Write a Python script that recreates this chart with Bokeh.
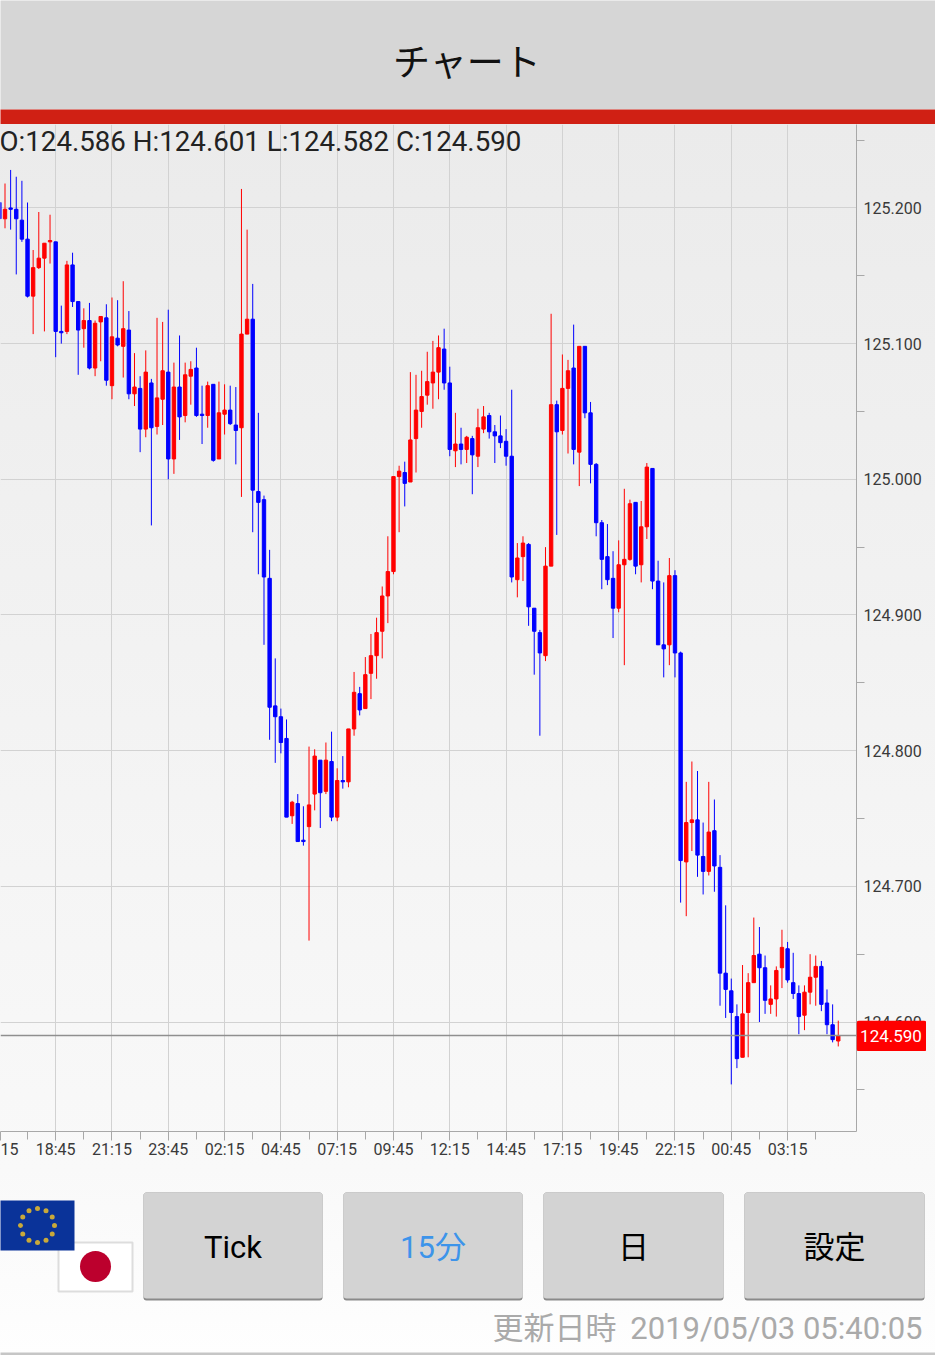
import math
from bokeh.embed import file_html
from bokeh.models import ColumnDataSource, FixedTicker, Label, Range1d, Span, AllLabels
from bokeh.plotting import figure
from bokeh.resources import INLINE
from bokeh.core.properties import value

opens = [125.204,125.192,125.200,125.199,125.191,125.177,125.135,125.156,125.163,125.175,
125.175,125.109,125.109,125.158,125.131,125.111,125.117,125.082,125.116,125.119,
125.069,125.104,125.098,125.110,125.063,125.067,125.037,125.071,125.039,125.059,
125.079,125.015,125.068,125.047,125.076,125.082,125.048,125.047,125.070,125.015,
125.048,125.051,125.040,125.038,125.107,125.118,124.991,124.985,124.927,124.833,
124.825,124.809,124.752,124.761,124.734,124.744,124.768,124.793,124.770,124.792,
124.751,124.778,124.777,124.816,124.842,124.831,124.857,124.870,124.888,124.914,
124.932,125.002,125.005,124.998,125.030,125.050,125.062,125.071,125.079,125.096,
125.071,125.021,125.026,125.022,125.030,125.017,125.037,125.047,125.035,125.032,
125.028,125.017,124.926,124.943,124.952,124.905,124.887,124.870,124.936,125.055,
125.036,125.067,125.082,125.020,125.098,125.049,125.011,124.968,124.943,124.927,
124.905,124.937,124.941,124.983,124.937,124.965,125.008,124.925,124.878,124.878,
124.929,124.872,124.718,124.747,124.749,124.722,124.711,124.741,124.714,124.636,
124.623,124.604,124.574,124.607,124.629,124.650,124.640,124.613,124.617,124.640,
124.654,124.629,124.621,124.605,124.622,124.633,124.641,124.614,124.598,124.586]
highs = [125.204,125.218,125.228,125.223,125.220,125.204,125.169,125.197,125.174,125.195,
125.175,125.128,125.161,125.167,125.131,125.126,125.130,125.117,125.120,125.129,
125.134,125.132,125.146,125.124,125.093,125.076,125.095,125.074,125.119,125.116,
125.125,125.086,125.106,125.086,125.087,125.097,125.069,125.072,125.070,125.072,
125.070,125.069,125.068,125.214,125.184,125.144,125.049,124.988,124.948,124.868,
124.831,124.823,124.763,124.768,124.759,124.803,124.801,124.793,124.806,124.814,
124.787,124.796,124.816,124.858,124.847,124.869,124.886,124.898,124.921,124.958,
125.002,125.010,125.013,125.079,125.077,125.080,125.094,125.102,125.106,125.111,
125.083,125.049,125.038,125.032,125.032,125.052,125.054,125.049,125.040,125.047,
125.037,125.066,124.953,124.958,124.953,124.905,124.889,124.950,125.122,125.058,
125.092,125.088,125.114,125.098,125.098,125.057,125.012,124.970,124.967,124.947,
124.955,124.993,124.985,124.983,124.984,125.012,125.008,124.940,124.924,124.942,
124.933,124.873,124.777,124.792,124.785,124.747,124.777,124.764,124.723,124.686,
124.632,124.613,124.642,124.636,124.677,124.670,124.649,124.627,124.641,124.668,
124.659,124.651,124.627,124.627,124.650,124.649,124.645,124.624,124.613,124.601]
lows = [125.192,125.185,125.184,125.151,125.175,125.134,125.107,125.155,125.109,125.159,
125.090,125.100,125.107,125.127,125.077,125.097,125.081,125.076,125.087,125.069,
125.059,125.098,125.075,125.059,125.054,125.020,125.031,124.966,125.033,125.040,
125.000,125.004,125.029,125.042,125.055,125.046,125.026,125.038,125.013,125.015,
125.033,125.040,125.011,124.987,125.107,124.961,124.930,124.878,124.808,124.791,
124.798,124.751,124.746,124.733,124.730,124.660,124.756,124.743,124.768,124.748,
124.748,124.772,124.773,124.811,124.826,124.831,124.838,124.853,124.868,124.894,
124.930,124.961,124.980,124.998,125.005,125.038,125.055,125.052,125.059,125.066,
125.017,125.009,125.011,125.012,124.989,125.009,125.034,125.030,125.012,125.023,
125.010,124.924,124.913,124.925,124.892,124.856,124.811,124.866,124.936,124.959,
125.033,125.019,125.011,124.995,125.045,124.997,124.958,124.919,124.922,124.883,
124.902,124.863,124.940,124.930,124.924,124.956,124.919,124.878,124.854,124.863,
124.854,124.688,124.678,124.726,124.707,124.694,124.708,124.696,124.612,124.603,
124.554,124.566,124.574,124.574,124.629,124.600,124.606,124.606,124.604,124.625,
124.629,124.617,124.591,124.594,124.613,124.612,124.608,124.591,124.585,124.582]
closes = [125.192,125.199,125.199,125.192,125.177,125.135,125.156,125.163,125.174,125.176,
125.109,125.108,125.158,125.131,125.110,125.117,125.082,125.115,125.120,125.073,
125.105,125.099,125.111,125.063,125.068,125.037,125.079,125.038,125.060,125.080,
125.015,125.068,125.046,125.077,125.081,125.047,125.047,125.069,125.014,125.049,
125.051,125.041,125.036,125.107,125.118,124.992,124.983,124.928,124.832,124.825,
124.806,124.751,124.762,124.733,124.733,124.760,124.796,124.769,124.793,124.751,
124.778,124.777,124.816,124.843,124.830,124.856,124.870,124.887,124.914,124.932,
125.002,125.006,124.997,125.029,125.051,125.061,125.072,125.079,125.097,125.071,
125.022,125.026,125.022,125.031,125.018,125.038,125.046,125.035,125.032,125.027,
125.017,124.928,124.942,124.953,124.906,124.888,124.872,124.936,125.055,125.035,
125.067,125.080,125.022,125.098,125.049,125.011,124.968,124.941,124.926,124.905,
124.937,124.941,124.982,124.936,124.965,125.009,124.925,124.878,124.875,124.929,
124.872,124.719,124.747,124.749,124.723,124.711,124.740,124.715,124.636,124.624,
124.607,124.573,124.606,124.629,124.649,124.640,124.616,124.617,124.638,124.655,
124.631,124.621,124.604,124.622,124.633,124.641,124.613,124.598,124.587,124.590]

y_labels = ["125.200", "125.100", "125.000", "124.900", "124.800", "124.700", "124.600"]
y_ticks = [float(t) for t in y_labels]
y_minor = [125.25, 125.15, 125.05, 124.95, 124.85, 124.75, 124.65, 124.55]
time_labels = ["15", "18:45", "21:15", "23:45", "02:15", "04:45", "07:15", "09:45",
               "12:15", "14:45", "17:15", "19:45", "22:15", "00:45", "03:15"]
ohlc_text = "O:124.586 H:124.601 L:124.582 C:124.590"
last_price = 124.590
buttons = ["Tick", "15分", "日", "設定"]
button_left = [143, 343, 543, 744]
button_right = [322, 522, 723, 924]
button_colors = ["#000000", "#3d94ea", "#000000", "#000000"]
updated_label = "更新日時"
updated_time = "2019/05/03 05:40:05"

FONT = value("Roboto, 'Noto Sans CJK JP'")
WIDTH = 935


def place(f, top, left=0, grad=None):
    s = {"position": "absolute", "left": f"{left}px", "top": f"{top}px"}
    if grad:
        s["background"] = f"linear-gradient(to bottom, {grad[0]}, {grad[1]})"
    f.styles = s
    f.outline_line_color = None
    f.background_fill_color = None
    f.border_fill_color = None


def chrome(height, y_top, grad=None, left=0, width=WIDTH):
    f = figure(width=width, height=height, output_backend="svg", toolbar_location=None,
               x_range=Range1d(left, left + width), y_range=Range1d(y_top + height, y_top),
               x_axis_type=None, y_axis_type=None, min_border=0)
    place(f, y_top, left, grad)
    return f


# header
head = chrome(124, 0)
head.quad(left=[-5], right=[WIDTH + 5], top=[-5], bottom=[109], color="#d6d6d6", line_color=None)
head.quad(left=[-5], right=[WIDTH + 5], top=[109], bottom=[130], color="#d02014", line_color=None)
head.text(x=[466.5], y=[59], text=["チャート"], text_font=value("Noto Sans CJK JP"),
          text_font_size="37px", text_align="center", text_baseline="middle", text_color="#111111")

# chart
n = len(opens)
idx = list(range(n))
colors = ["#ff0000" if c >= o else "#0000ff" for o, c in zip(opens, closes)]
src = ColumnDataSource(dict(x=idx, top=[max(o, c) for o, c in zip(opens, closes)],
                            bottom=[min(o, c) for o, c in zip(opens, closes)],
                            high=highs, low=lows, color=colors))
x_start = 0.2
x_end = 152.24
chart = figure(width=WIDTH, height=1046, output_backend="svg", toolbar_location=None,
               x_range=Range1d(x_start, x_end), y_range=Range1d(124.5193, 125.2615),
               y_axis_location="right", min_border_left=0, min_border_top=0,
               min_border_right=79, min_border_bottom=39)
place(chart, 124, grad=("#ebebeb", "#f9f9f9"))
grid_ticks = [10 * k for k in range(1, len(time_labels))]
chart.xgrid.ticker = FixedTicker(ticks=grid_ticks)
chart.ygrid.ticker = FixedTicker(ticks=y_ticks)
for g in (chart.xgrid, chart.ygrid):
    g.grid_line_color = "#d2d2d2"
    g.grid_line_width = 1

ax = chart.xaxis[0]
ax.ticker = FixedTicker(ticks=[x_start] + grid_ticks, minor_ticks=[5 + 10 * k for k in range(15)])
ax.major_label_overrides = {t: l for t, l in zip([x_start] + grid_ticks, time_labels)}
ax.major_label_policy = AllLabels()
ax.major_tick_out = 9
ax.major_tick_in = 0
ax.minor_tick_out = 8
ax.minor_tick_in = 0
ax.major_label_standoff = -1

ay = chart.yaxis[0]
ay.ticker = FixedTicker(ticks=y_ticks, minor_ticks=y_minor)
ay.major_label_overrides = {t: l for t, l in zip(y_ticks, y_labels)}
ay.major_label_policy = AllLabels()
ay.major_tick_out = 0
ay.major_tick_in = 0
ay.minor_tick_out = 8
ay.minor_tick_in = 0
ay.major_label_standoff = -1

for a in (ax, ay):
    a.axis_line_color = "#a8a8a8"
    a.major_tick_line_color = "#a8a8a8"
    a.minor_tick_line_color = "#a8a8a8"
    a.major_label_text_font = "Roboto"
    a.major_label_text_font_size = "16px"
    a.major_label_text_color = "#3a3a3a"

chart.segment(x0="x", x1="x", y0="low", y1="high", color="color", line_width=1, source=src)
chart.vbar(x="x", width=0.6, top="top", bottom="bottom", fill_color="color", line_color="color",
           line_width=1, source=src)

chart.add_layout(Span(location=last_price, dimension="width", line_color="#8f8f8f",
                      line_width=1.5))
chart.add_layout(Label(x=-1, y=17, x_units="canvas", y_units="canvas", text=ohlc_text,
                       text_font="Roboto", text_font_size="27.7px", text_color="#222222",
                       text_align="left", text_baseline="middle"))

# price tag above the axis labels
tag = chrome(31, 1020, left=856, width=70)
tag.quad(left=[856], right=[926], top=[1020], bottom=[1051], color="#ff0000", line_color=None,
         border_radius=3)
tag.text(x=[890.5], y=[1035.5], text=[f"{last_price:.3f}"], text_font=value("Roboto"),
         text_font_size="17px", text_color="#ffffff", text_align="center", text_baseline="middle")

# bottom strip
foot = chrome(185, 1170, ("#f9f9f9", "#fefefe"))
foot.quad(left=[58], right=[132], top=[1242], bottom=[1291], fill_color="#ffffff", line_color="#dddddd", line_width=2)
foot.quad(left=[-5], right=[74], top=[1200], bottom=[1250], color="#0a3399", line_color=None)
foot.circle(x=[95], y=[1266], radius=15.5, color="#bc002d", line_color=None)
foot.scatter(x=[37 + 17 * math.cos(k * math.pi / 6) for k in range(12)],
             y=[1225 + 17 * math.sin(k * math.pi / 6) for k in range(12)],
             marker="circle", size=5, color="#c9a93a", line_color=None)
foot.quad(left=button_left, right=button_right, top=[1192] * 4, bottom=[1300] * 4,
          color="#8a8a8a", line_color=None, border_radius=3)
foot.quad(left=button_left, right=button_right, top=[1192] * 4, bottom=[1298] * 4,
          color="#d3d3d3", line_color=None, border_radius=3)
foot.text(x=[(l + r) / 2 for l, r in zip(button_left, button_right)], y=[1247] * 4, text=buttons,
          text_font=FONT, text_font_size="31px", text_align="center", text_baseline="middle",
          text_color=button_colors)
foot.text(x=[616, 922], y=[1328, 1328], text=[updated_label, updated_time], text_font=FONT,
          text_font_size="31px", text_align="right", text_baseline="middle", text_color="#aaaaaa")
foot.quad(left=[-5], right=[WIDTH + 5], top=[1352], bottom=[1360], color="#c6c6c6", line_color=None)

open("out.html", "w").write(file_html([head, chart, foot, tag], INLINE))
